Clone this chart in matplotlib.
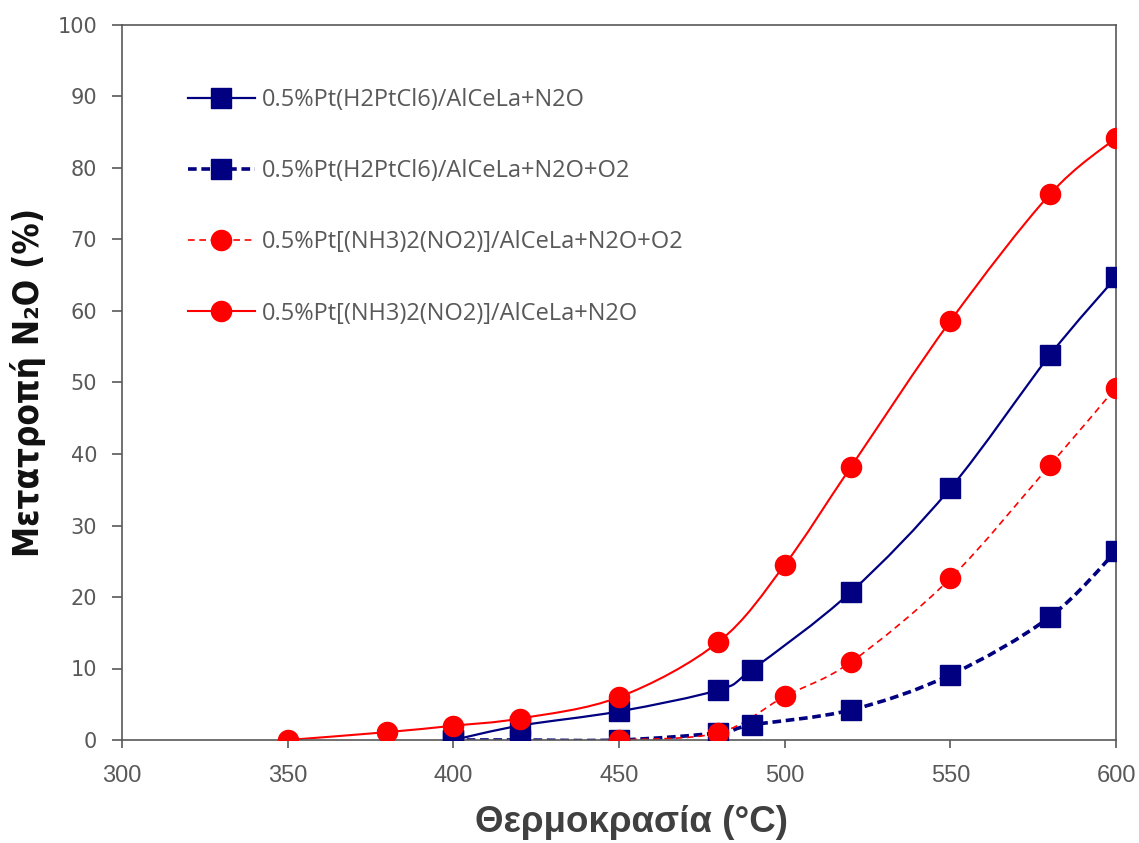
import numpy as np
import matplotlib
matplotlib.use("Agg")
import matplotlib.pyplot as plt
from matplotlib.path import Path
from matplotlib.patches import PathPatch
from matplotlib.lines import Line2D
from matplotlib import font_manager

# conversion of N2O (%) vs temperature (°C)
t_h2ptcl6 = [400, 420, 450, 480, 490, 520, 550, 580, 600]
conv_h2ptcl6_n2o = [0, 2.0, 4.0, 7.0, 9.8, 20.7, 35.2, 53.8, 64.7]
conv_h2ptcl6_n2o_o2 = [0, 0, 0, 1.0, 2.1, 4.2, 9.1, 17.2, 26.4]

t_nh3_o2 = [450, 480, 500, 520, 550, 580, 600]
conv_nh3_n2o_o2 = [0, 1.0, 6.1, 10.9, 22.6, 38.4, 49.3]

t_nh3 = [350, 380, 400, 420, 450, 480, 500, 520, 550, 580, 600]
conv_nh3_n2o = [0, 1.1, 2.0, 3.0, 6.0, 13.7, 24.5, 38.2, 58.6, 76.3, 84.2]

labels = ["0.5%Pt(H2PtCl6)/AlCeLa+N2O",
          "0.5%Pt(H2PtCl6)/AlCeLa+N2O+O2",
          "0.5%Pt[(NH3)2(NO2)]/AlCeLa+N2O+O2",
          "0.5%Pt[(NH3)2(NO2)]/AlCeLa+N2O"]

NAVY = "#000080"
RED = "#ff0000"
GREY = "#595959"

# narrow bold face for the y label if one is around
names = {f.name for f in font_manager.fontManager.ttflist}
narrow = "DejaVu Sans"
for cand in ["Liberation Sans Narrow", "DejaVu Sans Condensed"]:
    if cand in names:
        narrow = cand
        break


def smooth_path(x, y):
    # Catmull-Rom style bezier through the points (like a spreadsheet "smoothed line")
    pts = np.column_stack([x, y]).astype(float)
    n = len(pts)
    verts = [pts[0]]
    codes = [Path.MOVETO]
    for i in range(n - 1):
        p0 = pts[i - 1] if i > 0 else pts[i]
        p1 = pts[i]
        p2 = pts[i + 1]
        p3 = pts[i + 2] if i + 2 < n else pts[i + 1]
        verts += [p1 + (p2 - p0) / 6, p2 - (p3 - p1) / 6, p2]
        codes += [Path.CURVE4] * 3
    return Path(verts, codes)


series = [
    (t_h2ptcl6, conv_h2ptcl6_n2o, NAVY, "-", 1.6, "s", 14.5),
    (t_h2ptcl6, conv_h2ptcl6_n2o_o2, NAVY, (0, (2.4, 1.3)), 2.6, "s", 14.5),
    (t_nh3_o2, conv_nh3_n2o_o2, RED, (0, (4, 2.8)), 1.2, "o", 14.5),
    (t_nh3, conv_nh3_n2o, RED, "-", 1.5, "o", 14.5),
]

fig = plt.figure(figsize=(11.39, 8.43), dpi=100)
ax = fig.add_axes([122 / 1139, 1 - 740 / 843, 994 / 1139, 715 / 843])

handles = []
for (x, y, c, ls, lw, mk, ms), lab in zip(series, labels):
    ax.add_patch(PathPatch(smooth_path(x, y), fill=False, edgecolor=c,
                           linewidth=lw, linestyle=ls, capstyle="butt"))
    ax.plot(x, y, linestyle="none", marker=mk, markersize=ms,
            color=c, markeredgecolor=c, zorder=3)
    handles.append(Line2D([], [], color=c, linestyle=ls, linewidth=lw,
                          marker=mk, markersize=ms, markeredgecolor=c))

ax.set_xlim(300, 600)
ax.set_ylim(0, 100)
ax.set_xticks(np.arange(300, 601, 50))
ax.set_yticks(np.arange(0, 101, 10))

for s in ax.spines.values():
    s.set_color(GREY)
    s.set_linewidth(1.2)
ax.tick_params(axis="y", direction="out", length=7, width=1.2,
               color=GREY, labelcolor=GREY, pad=11)
ax.tick_params(axis="x", direction="out", length=6, width=1.2,
               color=GREY, labelcolor=GREY, pad=12)
for lab in ax.get_yticklabels():
    lab.set_fontfamily("DejaVu Sans")
    lab.set_fontsize(15)
for lab in ax.get_xticklabels():
    lab.set_fontfamily("Liberation Sans")
    lab.set_fontsize(17)

ax.set_xlabel("Θερμοκρασία (°C)", fontsize=26.5, fontweight="bold",
              color="#404040", family=["Liberation Sans", "DejaVu Sans"],
              labelpad=13)
ax.xaxis.label.set_x(0.513)
ax.set_ylabel("Μετατροπή N₂O (%)", fontsize=25, fontweight="bold",
              color="#111111", family=[narrow, "DejaVu Sans"],
              fontstretch="condensed", labelpad=8)

ax.legend(handles, labels, loc="upper left", bbox_to_anchor=(0.066, 0.912),
          frameon=False, handlelength=2.85, handletextpad=0.3,
          labelspacing=2.0, borderpad=0, borderaxespad=0,
          prop={"family": "Open Sans", "size": 17}, labelcolor=GREY)

fig.savefig("out.png", dpi=100)
